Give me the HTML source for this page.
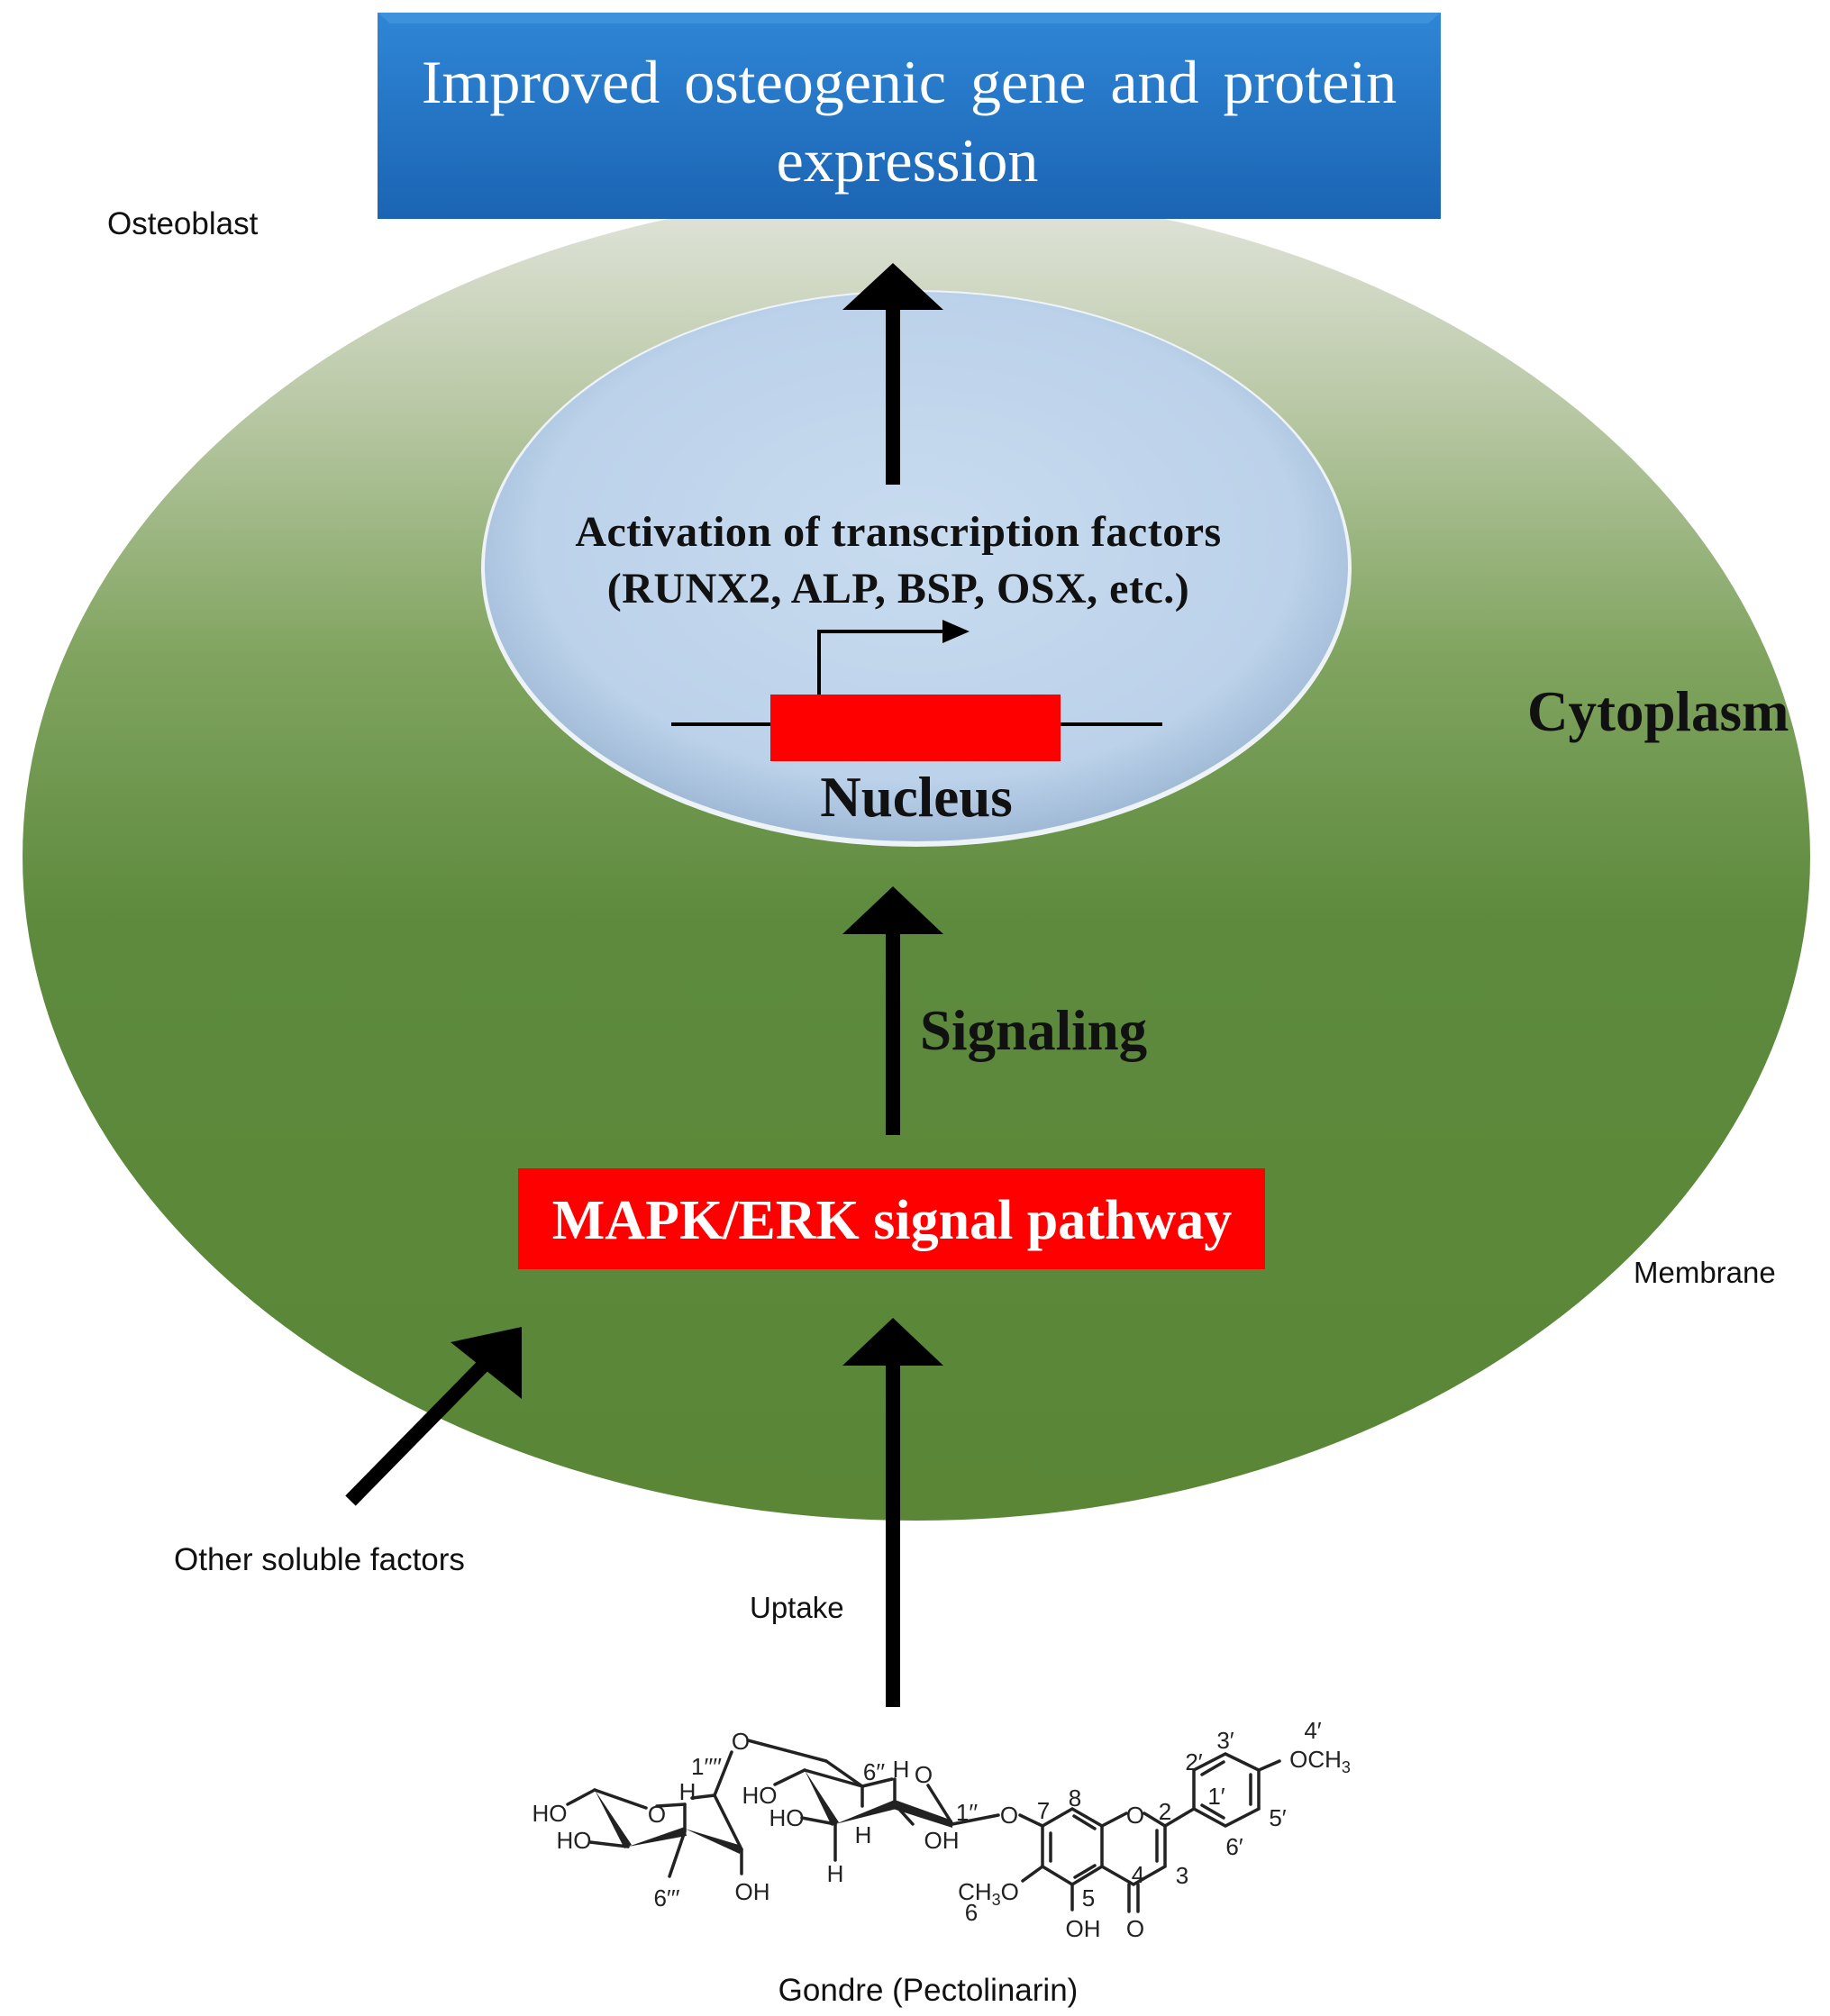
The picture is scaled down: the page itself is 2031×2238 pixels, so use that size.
<!DOCTYPE html>
<html><head><meta charset="utf-8"><style>
html,body{margin:0;padding:0;background:#fff}
svg{display:block}
.s{font-family:"Liberation Serif",serif;font-weight:bold}
.a{font-family:"Liberation Sans",sans-serif}
</style></head><body>
<svg width="2031" height="2238" viewBox="0 0 2031 2238" xmlns="http://www.w3.org/2000/svg">
<defs>
<linearGradient id="cell" x1="0" y1="0" x2="0" y2="1">
<stop offset="0" stop-color="#e2e5dc"/>
<stop offset="0.15" stop-color="#bccaa9"/>
<stop offset="0.35" stop-color="#80a45f"/>
<stop offset="0.55" stop-color="#5d8a3d"/>
<stop offset="1" stop-color="#5a8636"/>
</linearGradient>
<radialGradient id="nuc" cx="0.5" cy="0.45" r="0.55">
<stop offset="0" stop-color="#c8dbef"/>
<stop offset="0.8" stop-color="#bcd2ea"/>
<stop offset="1" stop-color="#9fb9d6"/>
</radialGradient>
<linearGradient id="blue" x1="0" y1="0" x2="0" y2="1">
<stop offset="0" stop-color="#2f86d6"/>
<stop offset="1" stop-color="#1b64b3"/>
</linearGradient>
</defs>
<ellipse cx="1017" cy="951" rx="992" ry="737" fill="url(#cell)"/>
<ellipse cx="1017" cy="631" rx="483" ry="309" fill="#eef3f8"/>
<ellipse cx="1017" cy="629" rx="479" ry="305" fill="url(#nuc)"/>
<rect x="419" y="14" width="1180" height="229" fill="url(#blue)"/>
<polygon points="419,14 1599,14 1585,26 433,26" fill="#4a9ae0" opacity="0.6"/>
<text x="1009" y="114" text-anchor="middle" font-family="Liberation Serif,serif" font-size="68" fill="#fff" word-spacing="10">Improved osteogenic gene and protein</text>
<text x="1007" y="201" text-anchor="middle" font-family="Liberation Serif,serif" font-size="68" fill="#fff">expression</text>
<text x="119" y="260" class="a" font-size="35" fill="#111">Osteoblast</text>
<rect x="983" y="340" width="16" height="198" fill="#000"/>
<polygon points="991,292 1047,344 935,344" fill="#000"/>
<text x="997" y="606" text-anchor="middle" class="s" font-size="48" fill="#111" letter-spacing="0.5">Activation of transcription factors</text>
<text x="997" y="669" text-anchor="middle" class="s" font-size="48" fill="#111" letter-spacing="0.5">(RUNX2, ALP, BSP, OSX, etc.)</text>
<line x1="745" y1="804" x2="1290" y2="804" stroke="#000" stroke-width="4"/>
<rect x="855" y="771" width="322" height="74" fill="#ff0000"/>
<polyline points="909,771 909,701 1050,701" fill="none" stroke="#000" stroke-width="4"/>
<polygon points="1076,701 1046,688 1046,714" fill="#000"/>
<text x="1017" y="906" text-anchor="middle" class="s" font-size="63" fill="#111">Nucleus</text>
<text x="1695" y="811" class="s" font-size="63" fill="#111">Cytoplasm</text>
<rect x="983" y="1030" width="16" height="230" fill="#000"/>
<polygon points="991,984 1047,1037 935,1037" fill="#000"/>
<text x="1021" y="1165" class="s" font-size="63" fill="#111">Signaling</text>
<rect x="575" y="1297" width="829" height="112" fill="#ff0000"/>
<text x="990" y="1375" text-anchor="middle" class="s" font-size="62" fill="#fff">MAPK/ERK signal pathway</text>
<text x="1813" y="1424" class="a" font-size="33" fill="#111">Membrane</text>
<rect x="983" y="1510" width="16" height="385" fill="#000"/>
<polygon points="991,1463 1047,1516 935,1516" fill="#000"/>
<line x1="389" y1="1666" x2="540" y2="1512" stroke="#000" stroke-width="16"/>
<polygon points="579,1473 579,1553 500,1490" fill="#000"/>
<text x="193" y="1743" class="a" font-size="35" fill="#111">Other soluble factors</text>
<text x="832" y="1796" class="a" font-size="33" fill="#111">Uptake</text>
<g stroke="#222" stroke-width="3.5" fill="none" stroke-linecap="round">
<line x1="630" y1="2003" x2="660" y2="1987"/>
<line x1="660" y1="1987" x2="717" y2="2007"/>
<line x1="655" y1="2045" x2="697" y2="2050"/>
<line x1="729" y1="2005" x2="760" y2="2003"/>
<line x1="760" y1="2003" x2="760" y2="2033"/>
<line x1="760" y1="2033" x2="743" y2="2083"/>
<line x1="823" y1="2053" x2="823" y2="2080"/>
<line x1="823" y1="2053" x2="793" y2="1993"/>
<line x1="793" y1="1993" x2="768" y2="1996"/>
<line x1="793" y1="1993" x2="812" y2="1945"/>
<line x1="830" y1="1932" x2="917" y2="1955"/>
<line x1="917" y1="1955" x2="957" y2="1983"/>
<line x1="860" y1="1981" x2="893" y2="1965"/>
<line x1="893" y1="1965" x2="957" y2="1983"/>
<line x1="890" y1="2018" x2="927" y2="2025"/>
<line x1="927" y1="2025" x2="927" y2="2065"/>
<line x1="957" y1="1983" x2="957" y2="2005"/>
<line x1="993" y1="2003" x2="993" y2="1975"/>
<line x1="957" y1="1983" x2="990" y2="1975"/>
<line x1="993" y1="2003" x2="1013" y2="2025"/>
<line x1="1057" y1="2025" x2="1030" y2="1982"/>
<line x1="1057" y1="2025" x2="1108" y2="2015"/>
<line x1="1132" y1="2015" x2="1157" y2="2027"/>
<path d="M1157,2027 L1190,2008 L1223,2027 L1223,2072 L1190,2092 L1157,2072 Z"/>
<line x1="1166" y1="2035" x2="1166" y2="2066"/>
<line x1="1192" y1="2016" x2="1215" y2="2030"/>
<line x1="1193" y1="2084" x2="1215" y2="2071"/>
<path d="M1223,2027 L1250,2013 M1270,2013 L1293,2027 L1293,2072 L1258,2092 L1223,2072"/>
<line x1="1284" y1="2032" x2="1284" y2="2066"/>
<line x1="1253" y1="2092" x2="1253" y2="2122"/>
<line x1="1263" y1="2092" x2="1263" y2="2122"/>
<line x1="1190" y1="2092" x2="1190" y2="2120"/>
<line x1="1157" y1="2072" x2="1135" y2="2088"/>
<line x1="1293" y1="2027" x2="1325" y2="2008"/>
<path d="M1325,2008 L1325,1965 L1360,1947 L1397,1965 L1397,2008 L1360,2027 Z"/>
<line x1="1334" y1="1970" x2="1358" y2="1956"/>
<line x1="1388" y1="1970" x2="1388" y2="2003"/>
<line x1="1334" y1="2004" x2="1358" y2="2018"/>
<line x1="1397" y1="1965" x2="1420" y2="1955"/>
</g>
<g fill="#222">
<polygon points="660,1987 693,2052 701,2048"/>
<polygon points="697,2050 760,2028 762,2038"/>
<polygon points="760,2030 823,2049 821,2058"/>
<polygon points="893,1965 923,2027 931,2023"/>
<polygon points="927,2025 993,1998 995,2008"/>
<polygon points="993,1998 1057,2021 1057,2029 991,2008"/>
</g>
<g class="a" font-size="26" fill="#222" text-anchor="middle">
<text x="610" y="2022">HO</text>
<text x="637" y="2052">HO</text>
<text x="729" y="2023">O</text>
<text x="763" y="1998">H</text>
<text x="784" y="1970">1′′′′</text>
<text x="822" y="1942">O</text>
<text x="740" y="2116">6′′′</text>
<text x="835" y="2109">OH</text>
<text x="843" y="2002">HO</text>
<text x="873" y="2027">HO</text>
<text x="970" y="1976">6′′</text>
<text x="1000" y="1973">H</text>
<text x="1025" y="1979">O</text>
<text x="958" y="2046">H</text>
<text x="927" y="2089">H</text>
<text x="1045" y="2052">OH</text>
<text x="1073" y="2021">1′′</text>
<text x="1120" y="2024">O</text>
<text x="1158" y="2019">7</text>
<text x="1193" y="2005">8</text>
<text x="1260" y="2024">O</text>
<text x="1293" y="2020">2</text>
<text x="1312" y="2091">3</text>
<text x="1263" y="2090">4</text>
<text x="1208" y="2116">5</text>
<text x="1202" y="2150">OH</text>
<text x="1260" y="2150">O</text>
<text x="1097" y="2109">CH<tspan font-size="18" dy="6">3</tspan><tspan dy="-6">O</tspan></text>
<text x="1078" y="2132">6</text>
<text x="1325" y="1965">2′</text>
<text x="1360" y="1941">3′</text>
<text x="1350" y="2003">1′</text>
<text x="1418" y="2027">5′</text>
<text x="1370" y="2059">6′</text>
<text x="1457" y="1930">4′</text>
<text x="1465" y="1962">OCH<tspan font-size="18" dy="6">3</tspan></text>
</g>
<text x="1030" y="2221" text-anchor="middle" class="a" font-size="35" fill="#111">Gondre (Pectolinarin)</text>
</svg>
</body></html>
